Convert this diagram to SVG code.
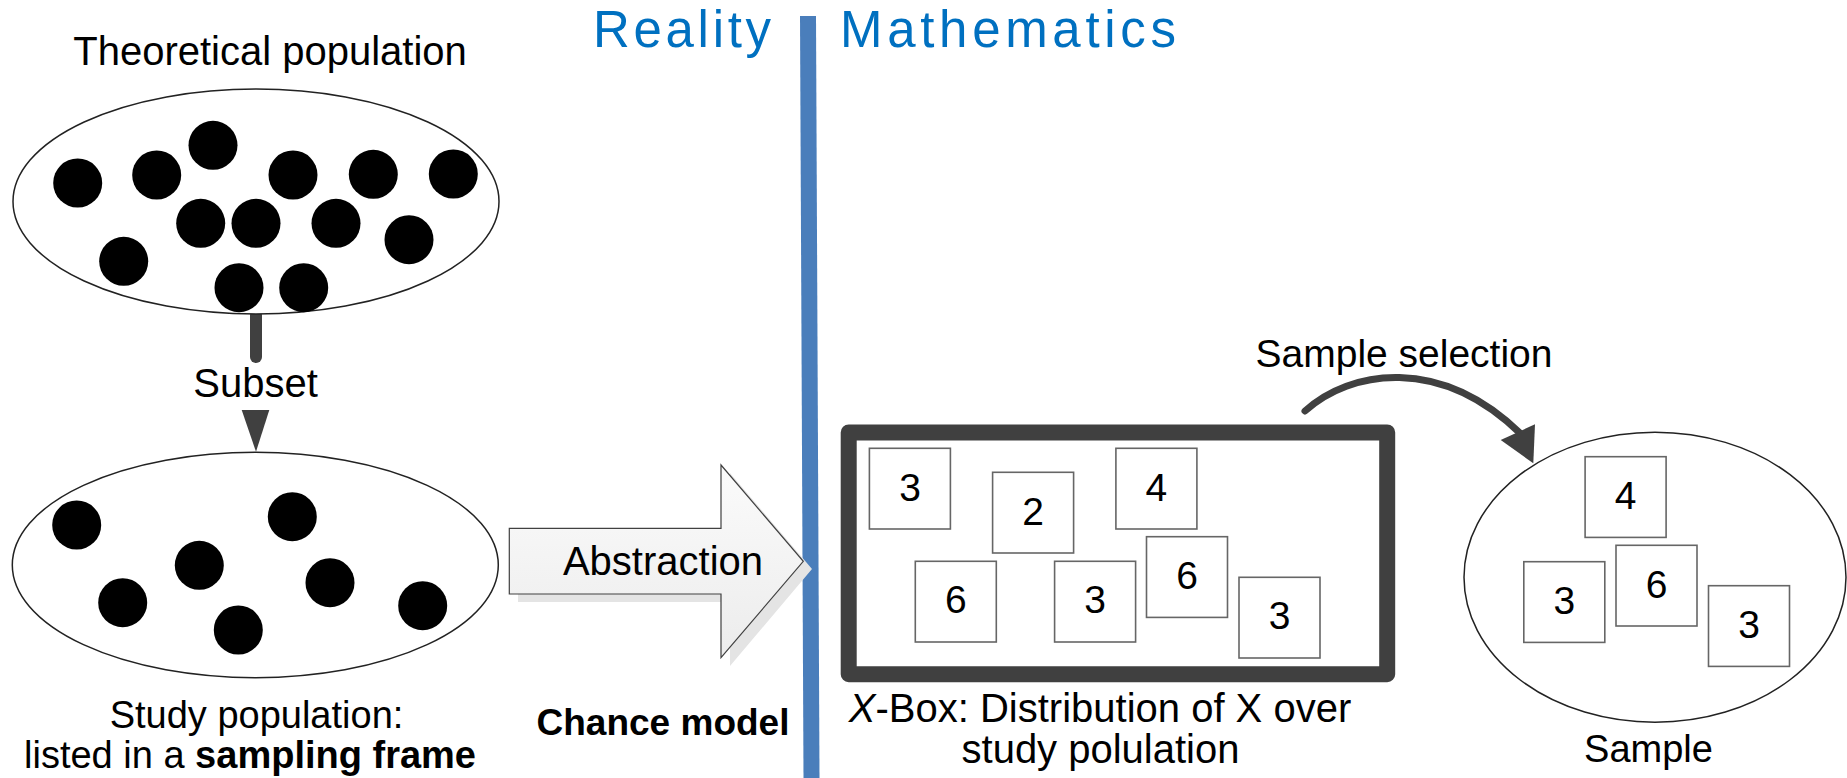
<svg xmlns="http://www.w3.org/2000/svg" width="1847" height="778" viewBox="0 0 1847 778">
<defs>
<style>
text{font-family:"Liberation Sans",Arial,sans-serif;fill:#000}
.lbl{font-size:40px;text-anchor:middle}
.hdr{font-size:51px;fill:#0070C0}
.dot{fill:#000}
.ell{fill:#fff;stroke:#222;stroke-width:1.5}
.card{fill:#fff;stroke:#666;stroke-width:1.6}
.num{font-size:39px;text-anchor:middle}
.dark{fill:#404040}
</style>
<linearGradient id="ag" x1="0" y1="0" x2="0" y2="1">
<stop offset="0" stop-color="#fbfbfb"/>
<stop offset="1" stop-color="#ececec"/>
</linearGradient>
</defs>
<rect width="1847" height="778" fill="#fff"/>

<g id="divider">
<line x1="808" y1="16" x2="811.5" y2="778" stroke="#4A7EBB" stroke-width="16"/>
<text class="hdr" x="593" y="47" textLength="178" lengthAdjust="spacing">Reality</text>
<text class="hdr" x="840" y="47" textLength="336" lengthAdjust="spacing">Mathematics</text>
</g>

<g id="connectors">
<path d="M256 315 V357" stroke="#404040" stroke-width="12" stroke-linecap="round" fill="none"/>
<rect x="250" y="340" width="12" height="17" class="dark"/>
<polygon points="241.7,410 269.3,410 256,451.7" class="dark"/>
<path d="M1305 411 C1350 370 1440 355 1521 434" stroke="#404040" stroke-width="7" stroke-linecap="round" fill="none"/>
<polygon points="1500.7,440 1535,424.3 1533.3,463.3" class="dark"/>
<polygon points="518,537 730,537 730,473 812,569 730,666 730,602 518,602" fill="#e4e4e4"/>
<polygon points="509.3,528.3 721,528.3 721,465 803.3,561.3 721,657.7 721,594 509.3,594" fill="url(#ag)" stroke="#404040" stroke-width="1.2"/>
</g>

<g id="label-abstraction">
<text class="lbl" x="663" y="575">Abstraction</text>
<text class="lbl" x="663" y="735" style="font-weight:bold;font-size:37px">Chance model</text>
</g>

<g id="theoretical-population">
<text class="lbl" x="270" y="65">Theoretical population</text>
<ellipse class="ell" cx="256" cy="201.5" rx="243" ry="112.5"/>
<circle class="dot" cx="77.7" cy="183" r="24.5"/>
<circle class="dot" cx="156.7" cy="175" r="24.5"/>
<circle class="dot" cx="213" cy="145.3" r="24.5"/>
<circle class="dot" cx="293" cy="175" r="24.5"/>
<circle class="dot" cx="373.3" cy="174.3" r="24.5"/>
<circle class="dot" cx="453.3" cy="174" r="24.5"/>
<circle class="dot" cx="200.7" cy="223.3" r="24.5"/>
<circle class="dot" cx="256" cy="223.3" r="24.5"/>
<circle class="dot" cx="336" cy="223.3" r="24.5"/>
<circle class="dot" cx="409" cy="239.7" r="24.5"/>
<circle class="dot" cx="123.7" cy="261.3" r="24.5"/>
<circle class="dot" cx="239" cy="287.7" r="24.5"/>
<circle class="dot" cx="303.7" cy="287.7" r="24.5"/>
</g>

<g id="subset-label">
<text class="lbl" x="255.5" y="397">Subset</text>
</g>

<g id="study-population">
<ellipse class="ell" cx="255.3" cy="565" rx="243" ry="112.7"/>
<circle class="dot" cx="76.7" cy="525" r="24.5"/>
<circle class="dot" cx="292.3" cy="516.7" r="24.5"/>
<circle class="dot" cx="199.3" cy="565.3" r="24.5"/>
<circle class="dot" cx="330" cy="582.7" r="24.5"/>
<circle class="dot" cx="122.7" cy="602.7" r="24.5"/>
<circle class="dot" cx="238.3" cy="630" r="24.5"/>
<circle class="dot" cx="422.7" cy="605.7" r="24.5"/>
<text class="lbl" x="256.5" y="728" style="font-size:38px">Study population:</text>
<text class="lbl" x="250" y="768" style="font-size:38px">listed in a <tspan style="font-weight:bold">sampling frame</tspan></text>
</g>

<g id="x-box">
<rect x="848.7" y="432.5" width="538.5" height="241.7" fill="#fff" stroke="#404040" stroke-width="16" stroke-linejoin="round"/>
<rect class="card" x="869.4" y="448.3" width="81" height="80.7"/><text class="num" x="910" y="501">3</text>
<rect class="card" x="992.6" y="472.3" width="81" height="80.7"/><text class="num" x="1033" y="525">2</text>
<rect class="card" x="1115.9" y="448.3" width="81" height="80.7"/><text class="num" x="1156.3" y="501">4</text>
<rect class="card" x="915.3" y="561.3" width="81" height="80.7"/><text class="num" x="955.8" y="613">6</text>
<rect class="card" x="1054.6" y="561.3" width="81" height="80.7"/><text class="num" x="1095" y="613">3</text>
<rect class="card" x="1146.5" y="536.7" width="81" height="80.7"/><text class="num" x="1187" y="589">6</text>
<rect class="card" x="1239" y="577.3" width="81" height="80.7"/><text class="num" x="1279.5" y="629">3</text>
<text class="lbl" x="1100" y="722"><tspan style="font-style:italic">X</tspan>-Box: Distribution of X over</text>
<text class="lbl" x="1100.5" y="763">study polulation</text>
</g>

<g id="sample-selection-label">
<text class="lbl" x="1404" y="367" style="font-size:39px">Sample selection</text>
</g>

<g id="sample">
<ellipse class="ell" cx="1655" cy="577.2" rx="191" ry="145"/>
<rect class="card" x="1585.1" y="456.7" width="81" height="80.7"/><text class="num" x="1625.6" y="509">4</text>
<rect class="card" x="1523.8" y="561.7" width="81" height="80.7"/><text class="num" x="1564.3" y="614">3</text>
<rect class="card" x="1616" y="545.3" width="81" height="80.7"/><text class="num" x="1656.5" y="598">6</text>
<rect class="card" x="1708.5" y="585.7" width="81" height="80.7"/><text class="num" x="1749" y="638">3</text>
<text class="lbl" x="1648.5" y="762" style="font-size:38px">Sample</text>
</g>
</svg>
